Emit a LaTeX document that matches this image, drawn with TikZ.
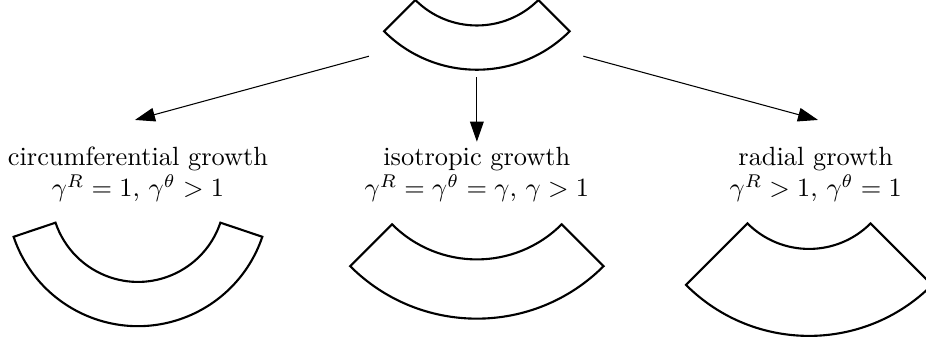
\documentclass[tikz,border=0pt]{standalone}
\usetikzlibrary{arrows.meta}

\begin{document}
\begin{tikzpicture}[
      ring/.style={draw, line width=0.8pt, line join=miter},
      growth/.style={align=center, inner sep=0pt, anchor=north},
      line/.style={draw, -{Triangle[length=7.6pt, width=5.2pt]}, line width=0.4pt}
    ]
    \useasboundingbox (0,0) rectangle (12.35,4.57);

    % reference sector
    \draw [ring] (6.36,5.39) ++(225:1.75) arc[start angle=225, end angle=315,
      radius=1.75] -- ++(135:0.59) arc[start angle=315, end angle=225,
      radius=1.16] -- cycle;

    \node [growth] (circ) at (1.84,2.62) {circumferential growth\\
      $\gamma^R = 1$, $\gamma^\theta > 1$};
    \node [growth] (iso) at (6.36,2.62) {isotropic growth\\
      $\gamma^R = \gamma^\theta = \gamma$, $\gamma > 1$};
    \node [growth] (rad) at (10.88,2.62) {radial growth\\
      $\gamma^R > 1$, $\gamma^\theta = 1$};

    % grown sectors
    \draw [ring] (1.84,1.97) ++(198.6:1.75) arc[start angle=198.6,
      end angle=341.4, radius=1.75] -- ++(161.4:0.59) arc[start angle=341.4,
      end angle=198.6, radius=1.16] -- cycle;
    \draw [ring] (6.36,2.71) ++(225:2.39) arc[start angle=225, end angle=315,
      radius=2.39] -- ++(135:0.79) arc[start angle=315, end angle=225,
      radius=1.6] -- cycle;
    \draw [ring] (10.79,2.41) ++(225:2.32) arc[start angle=225, end angle=315,
      radius=2.32] -- ++(135:1.16) arc[start angle=315, end angle=225,
      radius=1.16] -- cycle;

    \coordinate (from1) at (4.92,3.82);
    \coordinate (to1) at (1.80,2.97);
    \coordinate (from2) at (6.36,3.54);
    \coordinate (to2) at (6.36,2.68);
    \coordinate (from3) at (7.78,3.82);
    \coordinate (to3) at (10.91,2.97);

    \path [line] (from1) -- (to1);
    \path [line] (from2) -- (to2);
    \path [line] (from3) -- (to3);
  \end{tikzpicture}
\end{document}
